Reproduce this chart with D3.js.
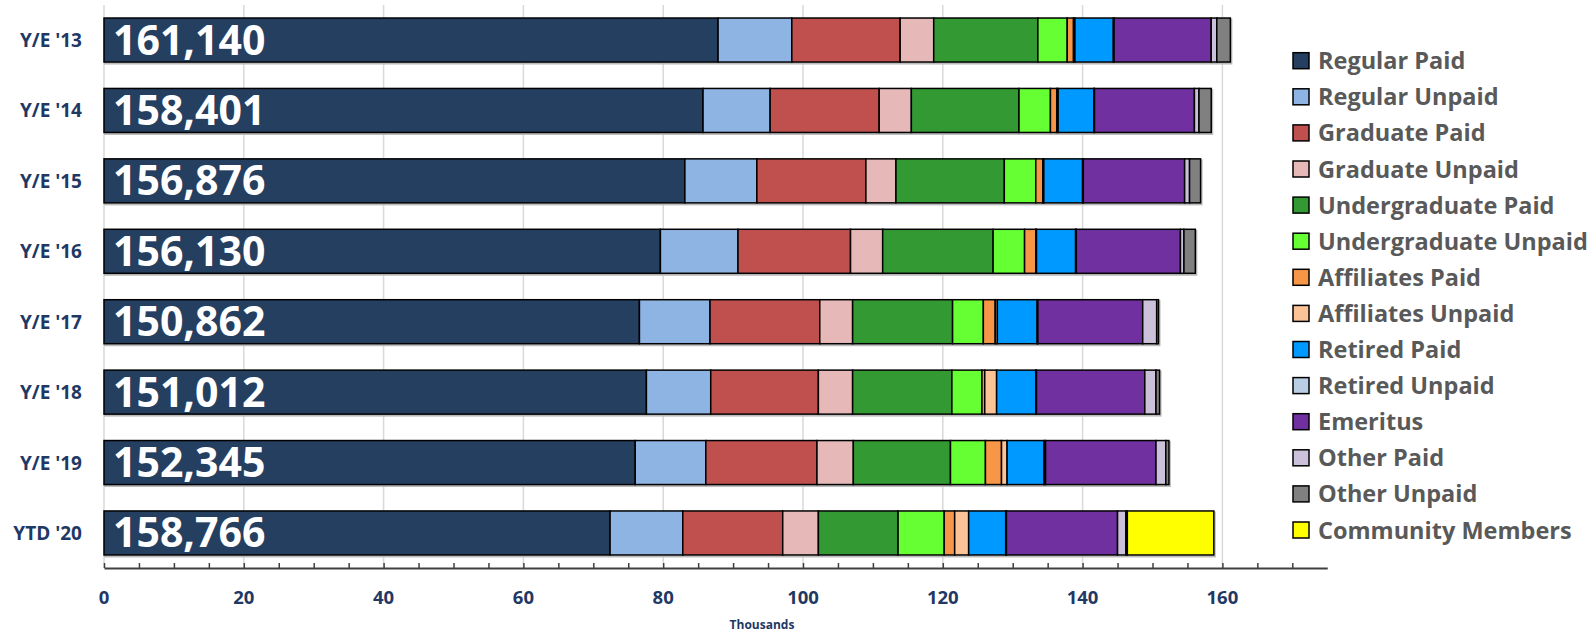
<!DOCTYPE html>
<html>
<head>
<meta charset="utf-8">
<script src="https://cdn.jsdelivr.net/npm/d3@7"></script>
<style>
  body { margin: 0; background: #fff; }
  text { font-family: "Open Sans", sans-serif; font-weight: bold; }
</style>
</head>
<body>
<script>
// categories and values (thousands)
const categories = ["Y/E '13", "Y/E '14", "Y/E '15", "Y/E '16", "Y/E '17", "Y/E '18", "Y/E '19", "YTD '20"];
const totals = [161140, 158401, 156876, 156130, 150862, 151012, 152345, 158766];

const regularPaid      = [87.85, 85.7, 83.1, 79.6, 76.6, 77.6, 76.0, 72.4];
const regularUnpaid    = [10.55, 9.6, 10.3, 11.1, 10.1, 9.2, 10.1, 10.4];
const graduatePaid     = [15.5, 15.6, 15.6, 16.1, 15.7, 15.4, 15.9, 14.3];
const graduateUnpaid   = [4.8, 4.6, 4.3, 4.6, 4.7, 4.9, 5.2, 5.1];
const undergradPaid    = [14.9, 15.4, 15.5, 15.8, 14.3, 14.2, 13.9, 11.4];
const undergradUnpaid  = [4.2, 4.5, 4.5, 4.5, 4.4, 4.3, 5.0, 6.6];
const affiliatesPaid   = [0.9, 0.9, 1.0, 1.6, 1.7, 0.4, 2.3, 1.5];
const affiliatesUnpaid = [0.2, 0.2, 0.15, 0.1, 0.3, 1.7, 0.8, 2.0];
const retiredPaid      = [5.5, 5.1, 5.55, 5.6, 5.7, 5.6, 5.3, 5.3];
const retiredUnpaid    = [0.1, 0.1, 0.1, 0.1, 0.1, 0.1, 0.2, 0.1];
const emeritus         = [13.9, 14.3, 14.5, 14.9, 15.0, 15.5, 15.8, 15.9];
const otherPaid        = [0.8, 0.65, 0.7, 0.5, 2.0, 1.6, 1.4, 1.2];
const otherUnpaid      = [1.94, 1.75, 1.58, 1.63, 0.26, 0.51, 0.45, 0.2];
const community        = [0, 0, 0, 0, 0, 0, 0, 12.37];

const seriesNames = ["Regular Paid", "Regular Unpaid", "Graduate Paid", "Graduate Unpaid",
  "Undergraduate Paid", "Undergraduate Unpaid", "Affiliates Paid", "Affiliates Unpaid",
  "Retired Paid", "Retired Unpaid", "Emeritus", "Other Paid", "Other Unpaid", "Community Members"];
const seriesValues = [regularPaid, regularUnpaid, graduatePaid, graduateUnpaid, undergradPaid,
  undergradUnpaid, affiliatesPaid, affiliatesUnpaid, retiredPaid, retiredUnpaid, emeritus,
  otherPaid, otherUnpaid, community];
const colors = ["#253f61", "#8eb4e3", "#c0504d", "#e6b9b8", "#339933", "#66ff33", "#f79646",
  "#fcc396", "#0099ff", "#b9cde5", "#7030a0", "#ccc1da", "#808080", "#ffff00"];

const W = 1596, H = 634;
const svg = d3.select('body').append('svg').attr('width', W).attr('height', H);

const x = d3.scaleLinear().domain([0, 175]).range([104, 104 + 175 * 6.99]);
const y = d3.scaleBand().domain(categories).range([5, 568]).paddingInner(0.375).paddingOuter(0.185);

// table for the stack
const table = categories.map((c, i) => {
  const row = { cat: c };
  seriesNames.forEach((s, j) => row[s] = seriesValues[j][i]);
  return row;
});
const stack = d3.stack().keys(seriesNames)(table);

// gridlines
svg.append('g').selectAll('line')
  .data(d3.range(0, 161, 20))
  .enter().append('line')
  .attr('x1', d => x(d)).attr('x2', d => x(d))
  .attr('y1', 5).attr('y2', 568)
  .attr('stroke', '#d9d9d9').attr('stroke-width', 1.5);

// faint shadow behind each bar
svg.append('g').selectAll('rect')
  .data(categories)
  .enter().append('rect')
  .attr('x', x(0) + 1)
  .attr('y', d => y(d) + 1.5)
  .attr('width', (d, i) => x(totals[i] / 1000) - x(0))
  .attr('height', y.bandwidth())
  .attr('fill', 'none')
  .attr('stroke', '#bbbbbb').attr('stroke-width', 2);

// stacked segments
const layers = svg.append('g').selectAll('g')
  .data(stack)
  .enter().append('g')
  .attr('fill', (d, i) => colors[i]);

layers.selectAll('rect')
  .data(d => d.filter(p => p[1] - p[0] > 0))
  .enter().append('rect')
  .attr('x', d => x(d[0]))
  .attr('y', d => y(d.data.cat))
  .attr('width', d => x(d[1]) - x(d[0]))
  .attr('height', y.bandwidth())
  .attr('stroke', '#000').attr('stroke-width', 1.5);

// total labels inside bars
svg.append('g').selectAll('text')
  .data(categories)
  .enter().append('text')
  .attr('x', 113)
  .attr('y', d => y(d) + y.bandwidth() / 2 + 14.5)
  .attr('fill', '#fff')
  .attr('font-size', 41)
  .text((d, i) => d3.format(',')(totals[i]));

// category labels
svg.append('g').selectAll('text')
  .data(categories)
  .enter().append('text')
  .attr('x', 82)
  .attr('y', d => y(d) + y.bandwidth() / 2 + 7)
  .attr('text-anchor', 'end')
  .attr('fill', '#1f3864')
  .attr('font-size', 19)
  .text(d => d);

// x axis
const axis = svg.append('g').attr('transform', 'translate(0,568)')
  .call(d3.axisBottom(x).tickValues(d3.range(0, 171, 5)).tickSizeInner(-5).tickSizeOuter(0).tickFormat(''));
axis.select('.domain').attr('stroke', '#404040').attr('stroke-width', 2);
axis.selectAll('.tick line').attr('stroke', '#404040').attr('stroke-width', 1.5);

svg.append('g').selectAll('text')
  .data(d3.range(0, 161, 20))
  .enter().append('text')
  .attr('x', d => x(d))
  .attr('y', 604)
  .attr('text-anchor', 'middle')
  .attr('fill', '#1f3864')
  .attr('font-size', 18.5)
  .text(d => d);

svg.append('text')
  .attr('x', 762).attr('y', 629)
  .attr('text-anchor', 'middle')
  .attr('fill', '#1f3864')
  .attr('font-size', 12)
  .text('Thousands');

// legend
const legend = svg.append('g').selectAll('g')
  .data(seriesNames)
  .enter().append('g')
  .attr('transform', (d, i) => 'translate(1293,' + (60.7 + i * 36.1) + ')');
legend.append('rect')
  .attr('x', 0).attr('y', -8).attr('width', 16).attr('height', 16)
  .attr('fill', (d, i) => colors[i])
  .attr('stroke', '#000').attr('stroke-width', 1.5);
legend.append('text')
  .attr('x', 25).attr('y', 8.5)
  .attr('fill', '#595959')
  .attr('font-size', 23.5)
  .text(d => d);
</script>
</body>
</html>
